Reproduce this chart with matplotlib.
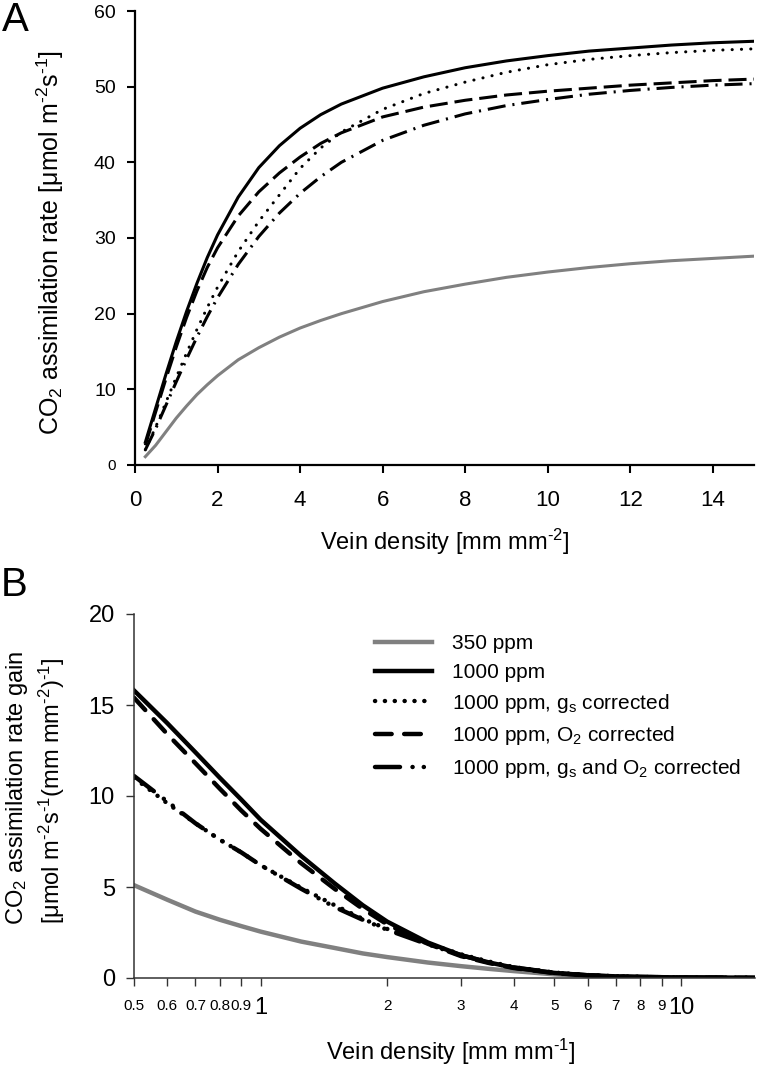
import numpy as np
import matplotlib
matplotlib.use("Agg")
import matplotlib.pyplot as plt
from matplotlib.ticker import FixedLocator, FixedFormatter

plt.rcParams['font.family'] = ['Liberation Sans', 'DejaVu Sans']
plt.rcParams['mathtext.fontset'] = 'custom'
plt.rcParams['mathtext.rm'] = 'Liberation Sans'
plt.rcParams['mathtext.it'] = 'Liberation Sans:italic'
plt.rcParams['mathtext.bf'] = 'Liberation Sans:bold'
plt.rcParams['lines.scale_dashes'] = False

# panel A: assimilation rate vs vein density
xa = [0.25, 0.5, 0.75, 1, 1.25, 1.5, 1.75, 2, 2.5, 3, 3.5, 4, 4.5, 5, 6, 7, 8, 9, 10, 11, 12, 13, 14, 15]
a_350 = [1.1, 2.6, 4.4, 6.2, 7.8, 9.3, 10.6, 11.8, 13.9, 15.5, 16.9, 18.1, 19.1, 20.0, 21.6, 22.9, 23.9, 24.8, 25.5, 26.1, 26.6, 27.0, 27.3, 27.6]
a_1000 = [3.0, 7.5, 12.0, 16.3, 20.3, 24.0, 27.4, 30.4, 35.4, 39.3, 42.2, 44.5, 46.3, 47.7, 49.8, 51.3, 52.5, 53.4, 54.1, 54.7, 55.1, 55.5, 55.8, 56.0]
a_gs = [2.0, 5.0, 8.3, 11.6, 14.8, 17.9, 20.8, 23.5, 28.2, 32.2, 35.7, 39.2, 41.9, 44.0, 47.0, 49.1, 50.6, 51.9, 52.9, 53.6, 54.1, 54.5, 54.8, 55.0]
a_o2 = [2.6, 7.0, 11.4, 15.6, 19.5, 23.0, 26.1, 28.7, 32.9, 36.1, 38.6, 40.7, 42.5, 43.9, 46.0, 47.3, 48.2, 48.9, 49.4, 49.8, 50.2, 50.5, 50.8, 51.0]
a_gso2 = [2.0, 4.8, 7.9, 11.0, 14.0, 16.9, 19.6, 22.1, 26.5, 30.2, 33.3, 35.9, 38.1, 40.0, 42.9, 44.9, 46.4, 47.5, 48.3, 49.0, 49.5, 49.9, 50.2, 50.4]

# panel B: assimilation rate gain vs vein density (log x)
xb = [0.5, 0.6, 0.7, 0.8, 0.9, 1, 1.25, 1.5, 1.75, 2, 2.5, 3, 3.5, 4, 5, 6, 7, 8, 10, 12, 15]
b_350 = [5.1, 4.3, 3.65, 3.2, 2.85, 2.55, 2.0, 1.65, 1.35, 1.15, 0.85, 0.65, 0.5, 0.38, 0.2, 0.11, 0.07, 0.05, 0.03, 0.02, 0.01]
b_1000 = [15.8, 14.0, 12.4, 11.0, 9.8, 8.7, 6.7, 5.2, 4.0, 3.1, 1.95, 1.25, 0.85, 0.57, 0.28, 0.15, 0.09, 0.06, 0.03, 0.02, 0.01]
b_gs = [11.0, 9.6, 8.5, 7.6, 6.9, 6.2, 4.95, 4.0, 3.25, 2.7, 1.9, 1.3, 0.9, 0.6, 0.3, 0.16, 0.1, 0.06, 0.03, 0.02, 0.01]
b_o2 = [15.4, 13.4, 11.8, 10.4, 9.2, 8.2, 6.3, 4.9, 3.8, 2.95, 1.88, 1.2, 0.82, 0.55, 0.27, 0.14, 0.08, 0.05, 0.03, 0.02, 0.01]
b_gso2 = [11.1, 9.7, 8.5, 7.6, 6.9, 6.2, 4.9, 3.9, 3.2, 2.65, 1.85, 1.25, 0.85, 0.58, 0.29, 0.15, 0.09, 0.06, 0.03, 0.02, 0.01]

sup2 = '$^{\\text{-}2}$'
sup1 = '$^{\\text{-}1}$'
labels = ['350 ppm', '1000 ppm', '1000 ppm, g$_\\mathrm{s}$ corrected',
          '1000 ppm, O$_\\mathrm{2}$ corrected',
          '1000 ppm, g$_\\mathrm{s}$ and O$_\\mathrm{2}$ corrected']
gray = '#808080'

W, H = 757, 1079
fig = plt.figure(figsize=(W/100, H/100), dpi=100)

# ---- panel A
axA = fig.add_axes([135/W, 1-465/H, (754-135)/W, (465-11)/H])
lw = 2.2
axA.plot(xa, a_350, color=gray, lw=lw)
axA.plot(xa, a_1000, color='black', lw=lw)
axA.plot(xa, a_gs, color='black', lw=lw, dashes=(0.1, 6.6), dash_capstyle='round')
axA.plot(xa, a_o2, color='black', lw=lw, dashes=(13, 5))
axA.plot(xa, a_gso2, color='black', lw=lw, dashes=(13, 5, 1.5, 5))
axA.set_xlim(0, 15)
axA.set_ylim(0, 60)
axA.set_xticks([0, 2, 4, 6, 8, 10, 12, 14])
axA.set_yticks([0, 10, 20, 30, 40, 50, 60])
for s in ['top', 'right']:
    axA.spines[s].set_visible(False)
for s in ['left', 'bottom']:
    axA.spines[s].set_linewidth(1.6)
axA.tick_params(axis='both', direction='out', length=5.8, width=1.5)
axA.tick_params(axis='x', labelsize=16, pad=12)
axA.tick_params(axis='y', labelsize=14, pad=8)
axA.get_yticklabels()[0].set_fontsize(11)

fig.text(50/W, 1-243/H, 'CO$_2$ assimilation rate [μmol m' + sup2 + 's' + sup1 + ']',
         rotation=90, ha='center', va='center', fontsize=18)
fig.text(445/W, 1-542/H, 'Vein density [mm mm' + sup2 + ']', ha='center', va='center', fontsize=17)
fig.text(15/W, 1-20/H, 'A', ha='center', va='center', fontsize=29)

# ---- panel B
axB = fig.add_axes([134/W, 1-978/H, (755-134)/W, (978-614)/H])
lwb = 3.2
axB.plot(xb, b_350, color=gray, lw=lwb, label=labels[0])
axB.plot(xb, b_1000, color='black', lw=lwb, label=labels[1])
axB.plot(xb, b_gs, color='black', lw=lwb, dashes=(0.1, 7), dash_capstyle='round', label=labels[2])
axB.plot(xb, b_o2, color='black', lw=lwb, dashes=(12, 9), dash_capstyle='round', label=labels[3])
axB.plot(xb, b_gso2, color='black', lw=lwb, dashes=(18, 9, 0.1, 8, 0.1, 9), dash_capstyle='round', label=labels[4])
axB.set_xscale('log')
axB.set_xlim(0.5, 15)
axB.set_ylim(0, 20)
axB.set_yticks([0, 5, 10, 15, 20])
axB.xaxis.set_major_locator(FixedLocator([1, 10]))
axB.xaxis.set_major_formatter(FixedFormatter(['1', '10']))
minor = [0.5, 0.6, 0.7, 0.8, 0.9, 2, 3, 4, 5, 6, 7, 8, 9]
axB.xaxis.set_minor_locator(FixedLocator(minor))
axB.xaxis.set_minor_formatter(FixedFormatter(['0.5', '0.6', '0.7', '0.8', '0.9',
                                              '2', '3', '4', '5', '6', '7', '8', '9']))
for s in ['top', 'right']:
    axB.spines[s].set_visible(False)
for s in ['left', 'bottom']:
    axB.spines[s].set_linewidth(1.1)
    axB.spines[s].set_color('#333333')
axB.tick_params(axis='both', which='both', direction='out', length=5.8, width=1.0, color='#333333')
axB.tick_params(axis='x', which='major', labelsize=17, pad=8)
axB.tick_params(axis='x', which='minor', labelsize=11, pad=9)
axB.tick_params(axis='y', labelsize=17, pad=8)

leg = axB.legend(loc='upper left', bbox_to_anchor=(0.388, 0.945), frameon=False,
                 fontsize=15, handlelength=2.75, handletextpad=0.95,
                 labelspacing=0.47, borderpad=0, borderaxespad=0)

fig.text(17/W, 1-788/H, 'CO$_2$ assimilation rate gain',
         rotation=90, ha='center', va='center', fontsize=17)
fig.text(52/W, 1-791/H, '[μmol m' + sup2 + 's' + sup1 + '(mm mm' + sup2 + ')' + sup1 + ']',
         rotation=90, ha='center', va='center', fontsize=17)
fig.text(451/W, 1-1052/H, 'Vein density [mm mm' + sup1 + ']', ha='center', va='center', fontsize=17)
fig.text(14/W, 1-585/H, 'B', ha='center', va='center', fontsize=29)

fig.savefig('out.png', dpi=100)
